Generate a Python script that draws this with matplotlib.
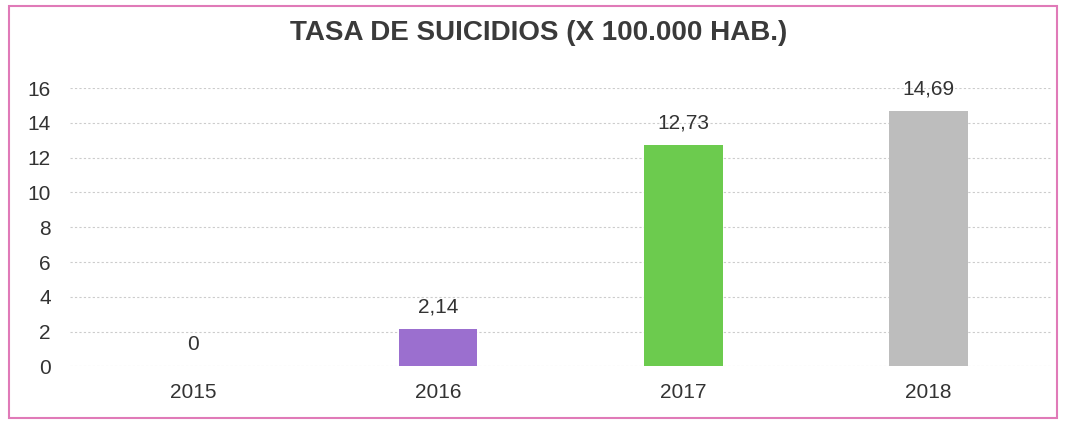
import matplotlib
matplotlib.use("Agg")
import matplotlib.pyplot as plt
from matplotlib.patches import Rectangle

plt.rcParams['font.family'] = ['Liberation Sans', 'DejaVu Sans']

# data
years = ['2015', '2016', '2017', '2018']
rates = [0, 2.14, 12.73, 14.69]
labels = ['0', '2,14', '12,73', '14,69']
colors = ['#9b6fcf', '#9b6fcf', '#6ccb4e', '#bdbdbd']

fig = plt.figure(figsize=(10.66, 4.26), dpi=100)
ax = fig.add_axes([0.066, 0.14, 0.92, 0.653])

x = range(len(years))
ax.bar(x, rates, width=0.32, color=colors, zorder=2)
for i, v in enumerate(rates):
    ax.annotate(labels[i], (i, v), xytext=(0, 9), textcoords='offset points',
                ha='center', va='bottom', fontsize=15, color='#333333')

ax.set_xlim(-0.5, 3.5)
ax.set_ylim(0, 16)
ax.set_yticks(range(0, 17, 2))
ax.set_xticks(list(x))
ax.set_xticklabels(years)
ax.tick_params(axis='both', length=0, labelsize=15, labelcolor='#333333')
ax.tick_params(axis='x', pad=12)
ax.tick_params(axis='y', pad=14)
ax.yaxis.grid(True, color='#cccccc', linestyle=(0, (2, 2)), linewidth=0.8, zorder=0)
for s in ax.spines.values():
    s.set_visible(False)

fig.text(0.505, 0.923, 'TASA DE SUICIDIOS (X 100.000 HAB.)', ha='center', va='center',
         fontsize=20, fontweight='bold', color='#3a3a3a')

# pink frame
fig.patches.append(Rectangle((0.008, 0.018), 0.984, 0.968, transform=fig.transFigure,
                             fill=False, edgecolor='#e07ab8', linewidth=1.5))

fig.savefig('out.png', dpi=100)
